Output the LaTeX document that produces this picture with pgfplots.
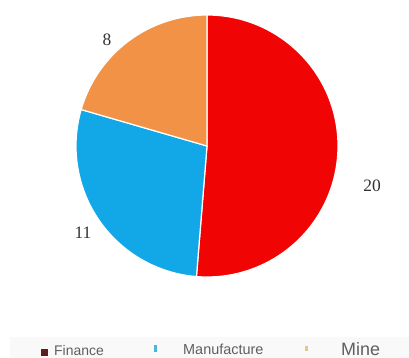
\documentclass[border=0pt]{standalone}
\usepackage{pgfplots}
\pgfplotsset{compat=1.18}
\usepackage{fontspec}
\setmainfont{Liberation Serif}
\newfontfamily\legfont{Liberation Sans}
\definecolor{cFin}{RGB}{240,4,4}
\definecolor{cMan}{RGB}{18,168,232}
\definecolor{cMin}{RGB}{242,146,70}
\definecolor{mFin}{RGB}{92,30,30}
\definecolor{mMan}{RGB}{70,184,216}
\definecolor{mMin}{RGB}{232,198,138}
\definecolor{legtxt}{RGB}{95,95,95}
\definecolor{legbg}{RGB}{249,249,249}
% values
\def\vFin{20}
\def\vMan{11}
\def\vMin{8}
\pgfmathsetmacro\tot{\vFin+\vMan+\vMin}
\pgfmathsetmacro\aA{90}
\pgfmathsetmacro\aB{90-360*\vFin/\tot}
\pgfmathsetmacro\aC{\aB-360*\vMan/\tot}
\pgfmathsetmacro\aD{\aC-360*\vMin/\tot}
\begin{document}
\begin{tikzpicture}
\begin{axis}[
  x=1bp, y=1bp, xmin=0, xmax=409, ymin=0, ymax=358,
  scale only axis, hide axis, clip=false,
]
\path (axis cs:0,0) rectangle (axis cs:409,358);
% pie
\fill[cFin, draw=white, line width=1.2bp] (axis cs:207,212) -- ++(\aA:131bp) arc[start angle=\aA, end angle=\aB, radius=131bp] -- cycle;
\fill[cMan, draw=white, line width=1.2bp] (axis cs:207,212) -- ++(\aB:131bp) arc[start angle=\aB, end angle=\aC, radius=131bp] -- cycle;
\fill[cMin, draw=white, line width=1.2bp] (axis cs:207,212) -- ++(\aC:131bp) arc[start angle=\aC, end angle=\aD, radius=131bp] -- cycle;
% value labels
\node[font=\fontsize{17.5}{20}\selectfont, text=black!80] at (axis cs:372,172) {\vFin};
\node[font=\fontsize{17.5}{20}\selectfont, text=black!80] at (axis cs:83,125) {\vMan};
\node[font=\fontsize{17.5}{20}\selectfont, text=black!80] at (axis cs:107,318) {\vMin};
% legend
\fill[legbg] (axis cs:10,0) rectangle (axis cs:409,21);
\fill[mFin] (axis cs:41,2) rectangle (axis cs:48,9);
\node[anchor=west, inner sep=0pt, font=\legfont\fontsize{14}{16}\selectfont, text=legtxt] at (axis cs:54,7) {Finance};
\fill[mMan] (axis cs:154,6) rectangle (axis cs:157,13);
\node[anchor=west, inner sep=0pt, font=\legfont\fontsize{14.5}{17}\selectfont, text=legtxt] at (axis cs:183,9) {Manufacture};
\fill[mMin] (axis cs:305,7) rectangle (axis cs:308,12);
\node[anchor=west, inner sep=0pt, font=\legfont\fontsize{18}{20}\selectfont, text=legtxt] at (axis cs:341,9) {Mine};
\end{axis}
\end{tikzpicture}
\end{document}
